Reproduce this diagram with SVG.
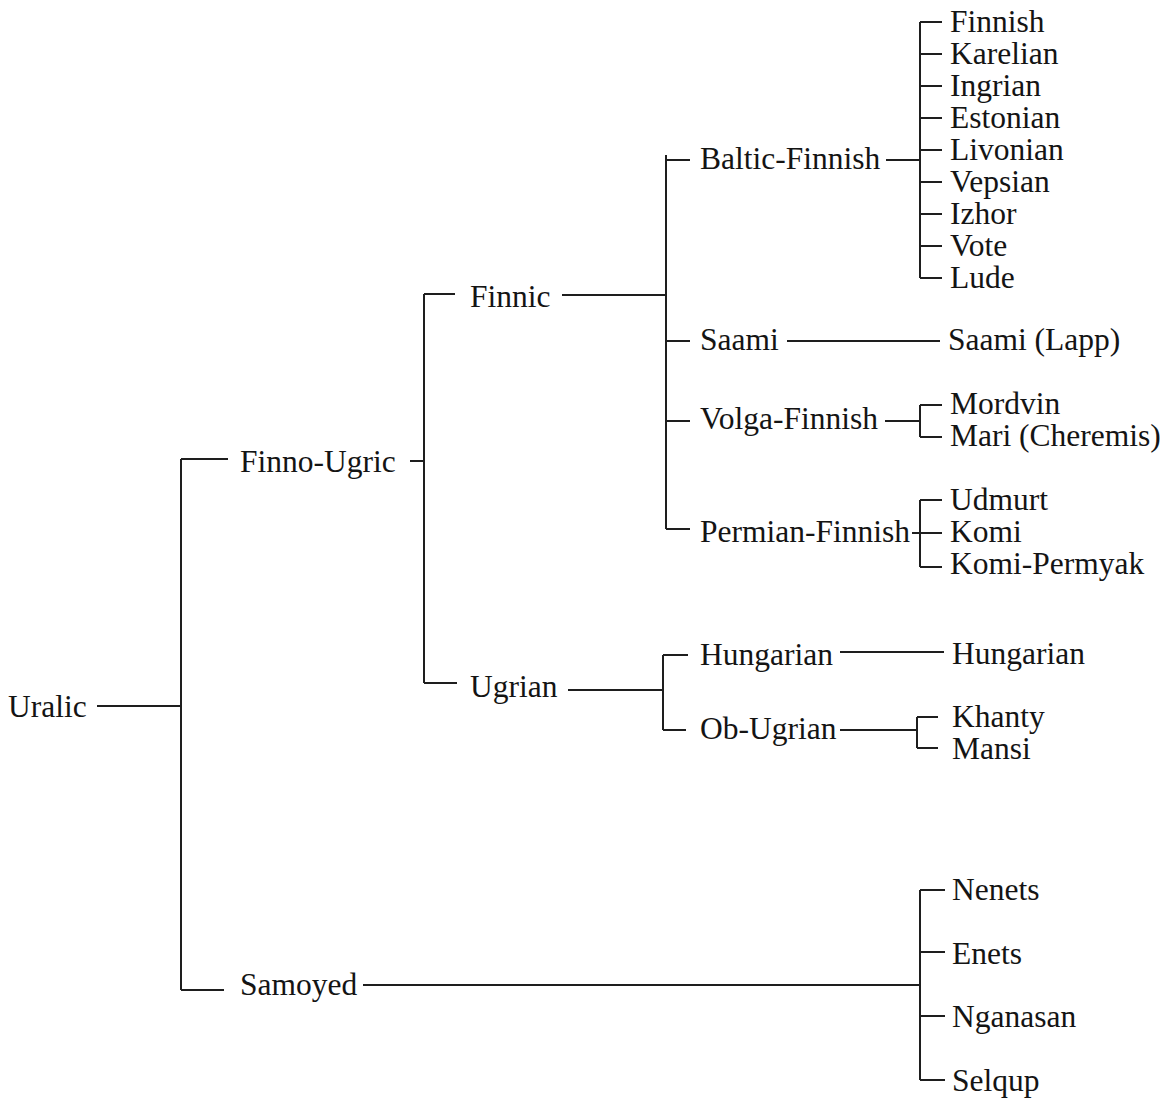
<svg xmlns="http://www.w3.org/2000/svg" width="1172" height="1102" viewBox="0 0 1172 1102">
<style>
text{font-family:"Liberation Serif","Times New Roman",serif;font-size:31.5px;fill:#141414}
.c path{fill:none;stroke:#1e1e1e;stroke-width:2}
</style>
<rect width="1172" height="1102" fill="#fff"/>
<g class="c" id="connectors">
<path d="M97 706H181M181 459V990M181 459H228M181 990H224"/>
<path d="M410 461H424M424 294V683M424 294H455M424 683H457"/>
<path d="M562 295H666M666 155V529M666 160H690M666 341H690M666 421H690M666 529H690"/>
<path d="M568 690H663M663 655V730M663 655H688M663 730H686"/>
<path d="M886 160H920M920 22V278M920 22H942M920 54H942M920 86H942M920 118H942M920 150H942M920 182H942M920 214H942M920 246H942M920 278H942"/>
<path d="M787 341H940"/>
<path d="M885 421H920M920 405V437M920 405H942M920 437H942"/>
<path d="M912 533H920M920 500V567M920 500H942M920 533H942M920 567H942"/>
<path d="M840 652H944"/>
<path d="M840 730H917M917 717V748M917 717H938M917 748H938"/>
<path d="M363 985H920M920 890V1080M920 890H945M920 952H945M920 1016H945M920 1080H945"/>
</g>
<g id="uralic"><text x="8" y="717">Uralic</text></g>
<g id="finno-ugric"><text x="240" y="472">Finno-Ugric</text></g>
<g id="samoyed"><text x="240" y="995">Samoyed</text></g>
<g id="finnic"><text x="470" y="307">Finnic</text></g>
<g id="ugrian"><text x="470" y="697">Ugrian</text></g>
<g id="baltic-finnish"><text x="700" y="169">Baltic-Finnish</text></g>
<g id="saami"><text x="700" y="350">Saami</text></g>
<g id="volga-finnish"><text x="700" y="429">Volga-Finnish</text></g>
<g id="permian-finnish"><text x="700" y="542">Permian-Finnish</text></g>
<g id="hungarian-branch"><text x="700" y="665">Hungarian</text></g>
<g id="ob-ugrian"><text x="700" y="739">Ob-Ugrian</text></g>
<g id="finnish"><text x="950" y="32">Finnish</text></g>
<g id="karelian"><text x="950" y="64">Karelian</text></g>
<g id="ingrian"><text x="950" y="96">Ingrian</text></g>
<g id="estonian"><text x="950" y="128">Estonian</text></g>
<g id="livonian"><text x="950" y="160">Livonian</text></g>
<g id="vepsian"><text x="950" y="192">Vepsian</text></g>
<g id="izhor"><text x="950" y="224">Izhor</text></g>
<g id="vote"><text x="950" y="256">Vote</text></g>
<g id="lude"><text x="950" y="288">Lude</text></g>
<g id="saami-lapp"><text x="948" y="350">Saami (Lapp)</text></g>
<g id="mordvin"><text x="950" y="414">Mordvin</text></g>
<g id="mari"><text x="950" y="446">Mari (Cheremis)</text></g>
<g id="udmurt"><text x="950" y="510">Udmurt</text></g>
<g id="komi"><text x="950" y="542">Komi</text></g>
<g id="komi-permyak"><text x="950" y="574">Komi-Permyak</text></g>
<g id="hungarian"><text x="952" y="664">Hungarian</text></g>
<g id="khanty"><text x="952" y="727">Khanty</text></g>
<g id="mansi"><text x="952" y="759">Mansi</text></g>
<g id="nenets"><text x="952" y="900">Nenets</text></g>
<g id="enets"><text x="952" y="964">Enets</text></g>
<g id="nganasan"><text x="952" y="1027">Nganasan</text></g>
<g id="selqup"><text x="952" y="1091">Selqup</text></g>
</svg>
